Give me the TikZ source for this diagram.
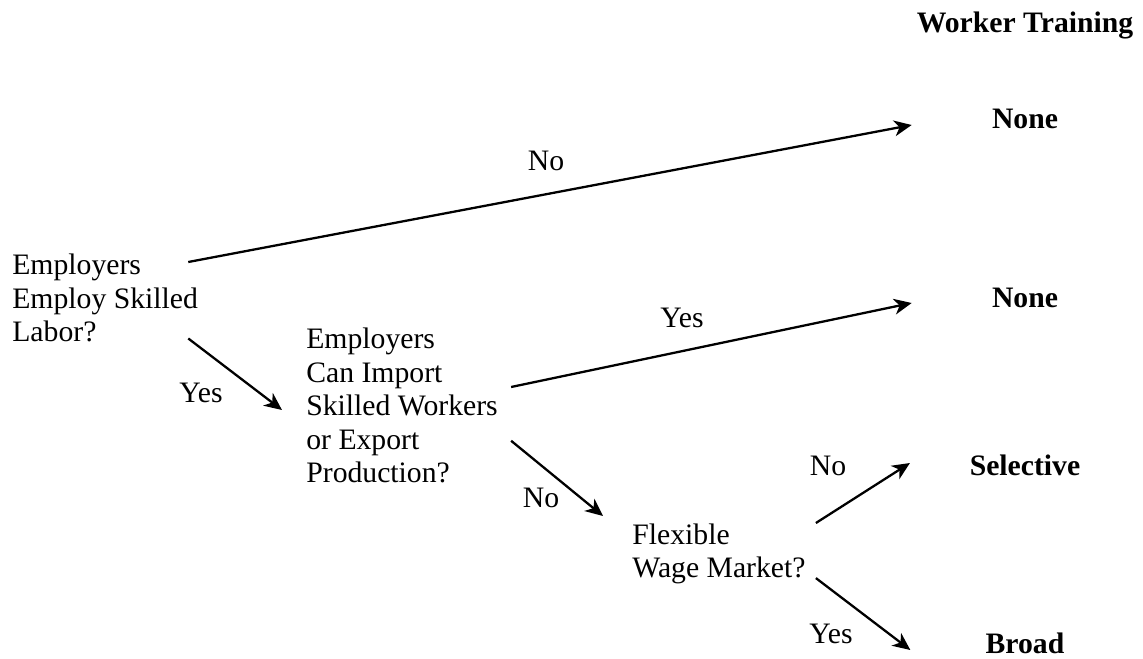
\documentclass[tikz,border=0pt]{standalone}
\usepackage{fontspec}
\setmainfont{Liberation Serif}
\usetikzlibrary{arrows.meta}

\begin{document}
\begin{tikzpicture}[x=0.02cm, y=-0.02cm,
        txt/.style={inner sep=0pt, font=\fontsize{16.9}{19}\selectfont},
        question/.style={txt, anchor=north west, align=left},
        answer/.style={txt, anchor=base, font=\fontsize{16.9}{19}\selectfont\bfseries},
        choice/.style={txt, anchor=base},
        branch/.style={-{Stealth[length=10pt, width=9pt, inset=3pt]}, line width=1.3pt}]
                \useasboundingbox (0,0) rectangle (1143,659);
                \node[answer] (head) at (1025,32) {Worker Training};
                \node[answer] (none-a) at (1025,128) {None};
                \node[answer] (none-b) at (1025,307) {None};
                \node[answer] (selective) at (1025,475) {Selective};
                \node[answer] (broad) at (1025,653) {Broad};
                \node[question] (skilled) at (12,254) {Employers\\Employ Skilled\\Labor?};
                \node[question] (import) at (306,328) {Employers\\Can Import\\Skilled Workers\\or Export\\Production?};
                \node[question] (wages) at (632,523.5) {Flexible\\Wage Market?};
                \draw[branch] ([shift={(-10,8)}]skilled.north east) -- ([shift={(-80,-3)}]none-a.base west);
                \draw[branch] ([shift={(-10,-4)}]skilled.south east) -- ([shift={(-24,82)}]import.north west);
                \draw[branch] ([shift={(13,59)}]import.north east) -- ([shift={(-80,-4)}]none-b.base west);
                \draw[branch] ([shift={(13,-42.5)}]import.south east) -- ([shift={(-29,-7.5)}]wages.north west);
                \draw[branch] ([shift={(10,-0.5)}]wages.north east) -- ([shift={(-59.5,-12)}]selective.base west);
                \draw[branch] ([shift={(10,-6.5)}]wages.south east) -- ([shift={(-75,-3)}]broad.base west);
                \node[choice] (no-a) at (546,170) {No};
                \node[choice] (yes-a) at (201,402) {Yes};
                \node[choice] (yes-b) at (682,327) {Yes};
                \node[choice] (no-b) at (541,507) {No};
                \node[choice] (no-c) at (828,475) {No};
                \node[choice] (yes-c) at (831,643) {Yes};
\end{tikzpicture}
\end{document}
